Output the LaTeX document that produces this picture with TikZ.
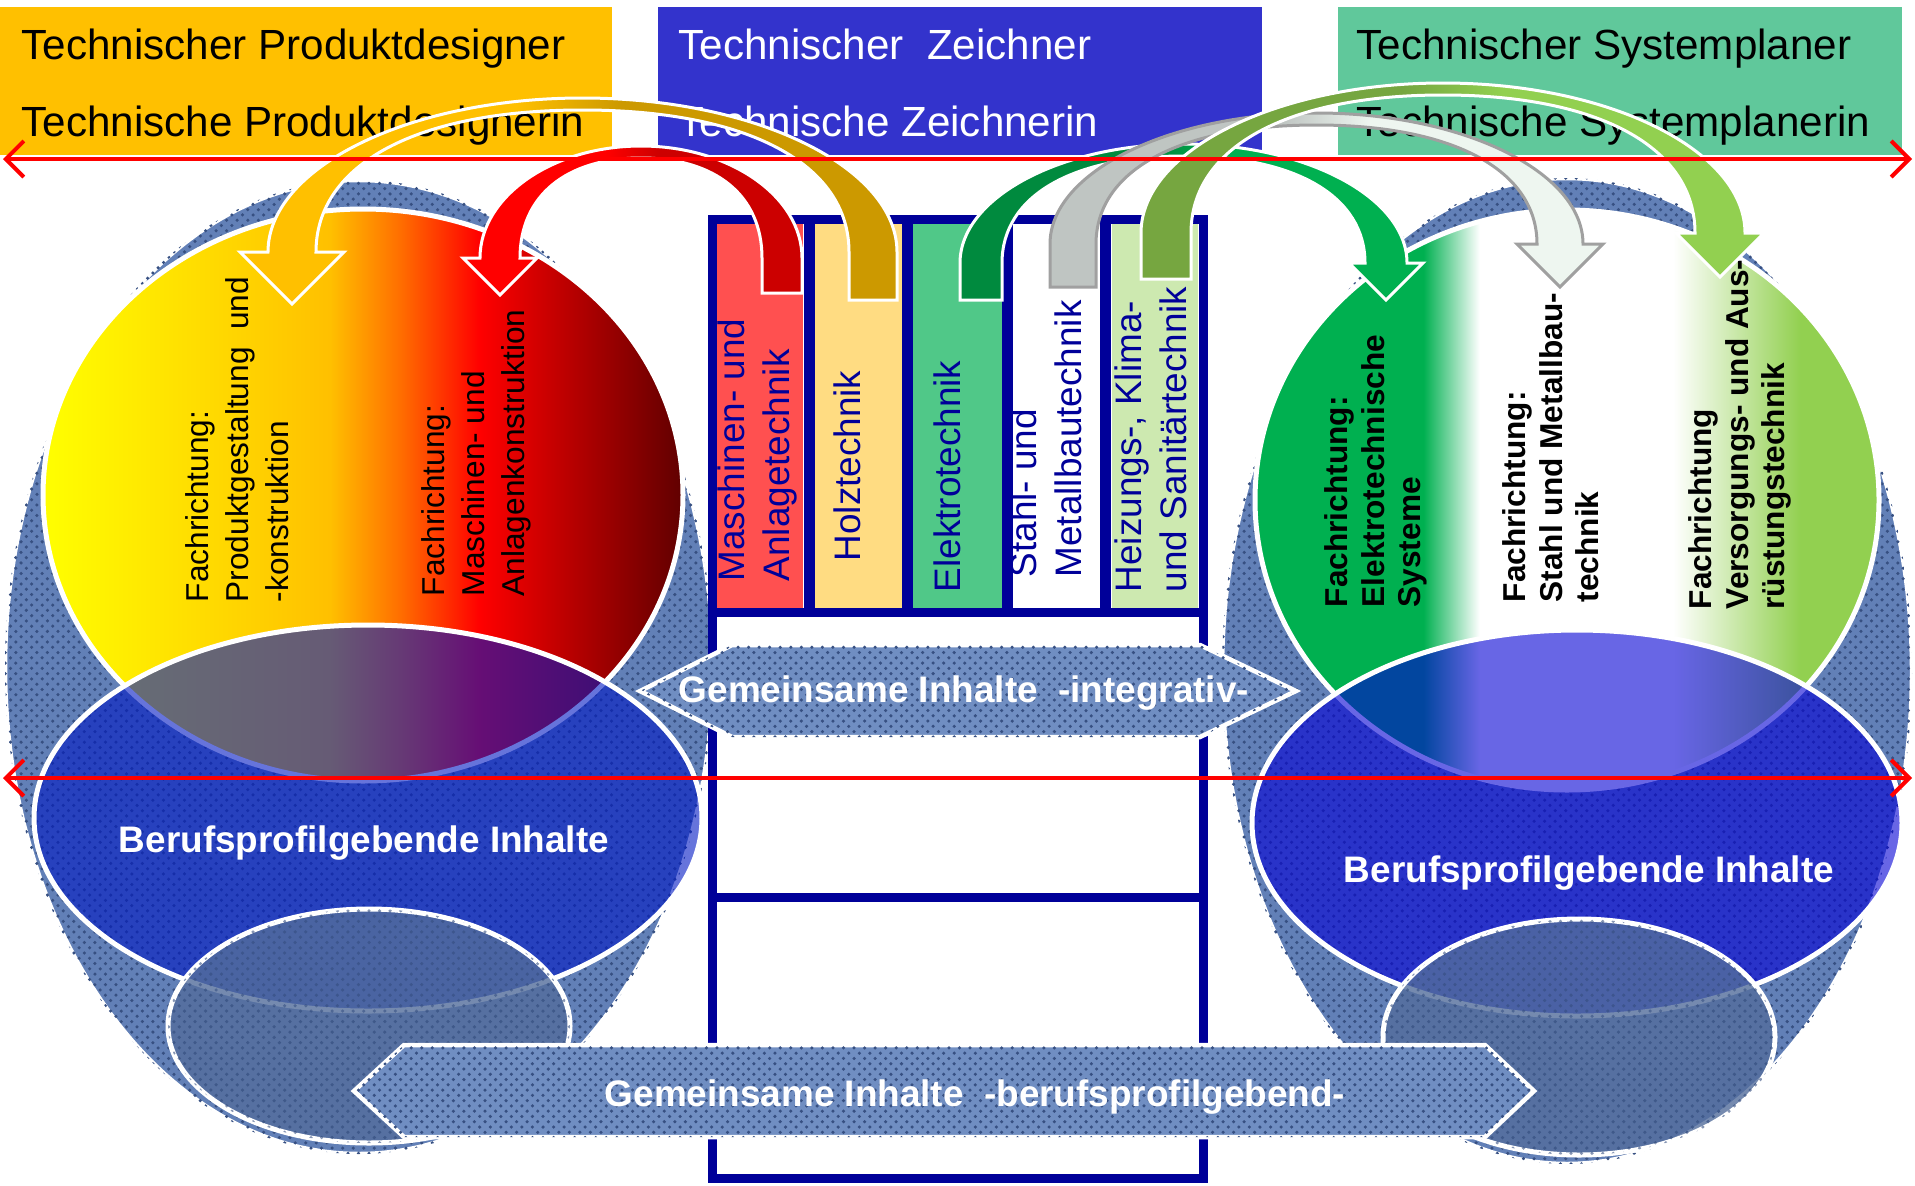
\documentclass[tikz,border=0pt]{standalone}
\usepackage{fontspec}
\setmainfont{Liberation Sans}
\usetikzlibrary{arrows.meta,patterns}

\definecolor{kopfgelb}{RGB}{255,192,0}
\definecolor{kopfblau}{RGB}{51,51,204}
\definecolor{kopfgruen}{RGB}{96,200,155}
\definecolor{denim}{RGB}{98,128,183}
\definecolor{denimdunkel}{RGB}{55,80,130}
\definecolor{denimhell}{RGB}{112,142,194}
\definecolor{rahmenblau}{RGB}{0,0,153}
\definecolor{balkenrot}{RGB}{255,80,80}
\definecolor{balkengelb}{RGB}{255,220,130}
\definecolor{balkengruen}{RGB}{80,200,136}
\definecolor{balkenhell}{RGB}{205,233,176}
\definecolor{kernblau}{RGB}{0,24,196}
\definecolor{kernviolett}{RGB}{4,0,213}
\definecolor{pvA}{RGB}{255,255,0}
\definecolor{pvB}{RGB}{255,192,0}
\definecolor{pvC}{RGB}{255,110,0}
\definecolor{pvD}{RGB}{255,0,0}
\definecolor{pvE}{RGB}{96,0,0}
\definecolor{svA}{RGB}{0,176,80}
\definecolor{svB}{RGB}{146,208,80}
\definecolor{goldL}{RGB}{255,192,0}
\definecolor{goldR}{RGB}{204,153,0}
\definecolor{rotL}{RGB}{255,0,0}
\definecolor{rotR}{RGB}{204,0,0}
\definecolor{gruenL}{RGB}{0,138,62}
\definecolor{gruenR}{RGB}{0,176,80}
\definecolor{grauL}{RGB}{191,197,194}
\definecolor{grauR}{RGB}{238,246,240}
\definecolor{grauRand}{RGB}{160,160,160}
\definecolor{olivL}{RGB}{118,166,64}
\definecolor{olivR}{RGB}{146,208,80}
\colorlet{bogenA}{red}
\colorlet{bogenB}{red}

% Verlaeufe
\pgfdeclarehorizontalshading{produktverlauf}{100bp}{color(0bp)=(pvA); color(25bp)=(pvA); color(47.4bp)=(pvB); color(52.9bp)=(pvC); color(59.1bp)=(pvD); color(75bp)=(pvE); color(100bp)=(pvE)}
\pgfdeclarehorizontalshading{systemverlauf}{100bp}{color(0bp)=(svA); color(38.5bp)=(svA); color(43bp)=(white); color(58.5bp)=(white); color(68.7bp)=(svB); color(100bp)=(svB)}
\pgfdeclarehorizontalshading[bogenA,bogenB]{bogenverlauf}{100bp}{color(0bp)=(bogenA); color(46bp)=(bogenA); color(54bp)=(bogenB); color(100bp)=(bogenB)}

\tikzset{
  titel/.style={anchor=base west, inner sep=0pt, font={\fontsize{12}{14}\selectfont}},
  fachtext/.style={rotate=90, anchor=west, align=left, inner sep=0pt, font={\fontsize{9}{11.4}\selectfont}},
  fachfett/.style={fachtext, font={\bfseries\fontsize{9}{10.4}\selectfont}},
  balkentext/.style={rotate=90, anchor=west, align=left, inner sep=0pt, text=rahmenblau, font={\fontsize{10.5}{12.8}\selectfont}},
  weisstext/.style={anchor=base, inner sep=0pt, text=white, font={\bfseries\fontsize{10.5}{12.6}\selectfont}},
  denimflaeche/.style={fill=denim, draw=white, line width=0.45mm, postaction={pattern=crosshatch dots, pattern color=denimdunkel}},
  kern/.style={fill opacity=0.6, draw=white, line width=0.5mm},
  klein/.style={fill=denim!85!black, fill opacity=0.8, draw=white, line width=0.5mm, postaction={pattern=crosshatch dots, pattern color=denimdunkel, fill opacity=0.6}},
  rahmen/.style={draw=rahmenblau, line width=0.9mm},
  bogen/.style 2 args={/utils/exec={\colorlet{bogenA}{#1}\colorlet{bogenB}{#2}}, shading=bogenverlauf, draw=white, line width=0.3mm},
  trennlinie/.style={draw=red, line width=0.4mm, {Straight Barb[length=1.8mm,width=3.6mm]}-{Straight Barb[length=1.8mm,width=3.6mm]}}
}

% Bogenpfeil: #1 x links, #2 x rechts, #3 y Fuss, #4 y Scheitel aussen, #5 y Schaftende,
% #6 halbe Spitzenbreite, #7 halbe Schaftbreite, #8 Stil, #9 Seite der Spitze (l/r)
\def\bko{0.55}
\def\bki{0.62}
\def\bt{12}
\newcommand{\bogenpfeil}[9]{%
  \pgfmathsetmacro\bcx{(#1+#2)/2}%
  \pgfmathsetmacro\bkxo{\bko*((#2-#1)/2+#7)}%
  \pgfmathsetmacro\bkxi{\bki*((#2-#1)/2-#7)}%
  \pgfmathsetmacro\bkyo{\bko*(#3-#4)}%
  \pgfmathsetmacro\bkyi{\bki*(#3-#4-\bt)}%
  \pgfmathsetmacro\bti{#4+\bt}%
  \if#9l
    \coordinate (lf2) at (#1-#6,#3); \coordinate (lf3) at (#1,#3+#6); \coordinate (lf4) at (#1+#6,#3);
    \coordinate (rf2) at (#2-#7,#5); \coordinate (rf3) at (#2,#5); \coordinate (rf4) at (#2+#7,#5);
  \else
    \coordinate (lf2) at (#1-#7,#5); \coordinate (lf3) at (#1,#5); \coordinate (lf4) at (#1+#7,#5);
    \coordinate (rf2) at (#2-#6,#3); \coordinate (rf3) at (#2,#3+#6); \coordinate (rf4) at (#2+#6,#3);
  \fi
  \shade[#8] (#1+#7,#3)
    .. controls (#1+#7,#3-\bkyi) and (\bcx-\bkxi,\bti) .. (\bcx,\bti)
    .. controls (\bcx+\bkxi,\bti) and (#2-#7,#3-\bkyi) .. (#2-#7,#3)
    -- (rf2) -- (rf3) -- (rf4) -- (#2+#7,#3)
    .. controls (#2+#7,#3-\bkyo) and (\bcx+\bkxo,#4) .. (\bcx,#4)
    .. controls (\bcx-\bkxo,#4) and (#1-#7,#3-\bkyo) .. (#1-#7,#3)
    -- (lf2) -- (lf3) -- (lf4) -- cycle;
}

\begin{document}
\begin{tikzpicture}[x=0.1mm, y=-0.1mm]
\useasboundingbox (0,0) rectangle (1915,1185);

% Kopfzeilen
\fill[kopfgelb] (0,7) rectangle (612,155);
\fill[kopfblau] (658,7) rectangle (1262,155);
\fill[kopfgruen] (1338,7) rectangle (1902,155);
\node[titel] (tpd1) at (21,59) {Technischer Produktdesigner};
\node[titel] (tpd2) at (21,136) {Technische Produktdesignerin};
\node[titel, text=white] (tz1) at (678,59) {Technischer\ \ Zeichner};
\node[titel, text=white] (tz2) at (678,136) {Technische Zeichnerin};
\node[titel] (tsp1) at (1356,59) {Technischer Systemplaner};
\node[titel] (tsp2) at (1356,136) {Technische Systemplanerin};

% Flaechen
\path[denimflaeche] (359,667) ellipse [x radius=35.4mm, y radius=48.7mm];
\path[denimflaeche] (1567,671) ellipse [x radius=34.5mm, y radius=49.3mm];

% Mittelteil
\fill[balkenrot] (717,223) rectangle (803,608);
\fill[balkengelb] (815,223) rectangle (902,608);
\fill[balkengruen] (913,223) rectangle (1002,608);
\fill[white] (1012,223) rectangle (1098,608);
\fill[balkenhell] (1112,223) rectangle (1198,608);
\fill[white] (717,617) rectangle (1198,1174);
\draw[rahmen] (712,219) rectangle (1203,1178);
\draw[rahmen] (712,612) -- (1203,612);
\draw[rahmen] (712,897) -- (1203,897);
\foreach \x in {809,907.5,1007,1105}
  \draw[rahmen, line width=1.1mm] (\x,219) -- (\x,612);
\node[balkentext] (bma) at (757,582) {Maschinen- und\\Anlagetechnik};
\node[balkentext] (bho) at (847,562) {Holztechnik};
\node[balkentext] (bel) at (947,593) {Elektrotechnik};
\node[balkentext] (bst) at (1046,578) {Stahl- und\\Metallbautechnik};
\node[balkentext] (bhk) at (1151,593) {Heizungs-, Klima-\\und Sanitärtechnik};

% Fachrichtungen
\shade[shading=produktverlauf, draw=white, line width=0.5mm] (363,495) ellipse [x radius=32mm, y radius=28.6mm];
\shade[shading=systemverlauf, draw=white, line width=0.5mm] (1567,500) ellipse [x radius=31.2mm, y radius=29mm];
\node[fachtext] (fpg) at (237,603) {Fachrichtung:\\Produktgestaltung\ \ und\\-konstruktion};
\node[fachtext] (fma) at (476,597) {Fachrichtung:\\Maschinen- und\\Anlagenkonstruktion};
\node[fachfett] (fes) at (1376,608) {Fachrichtung:\\Elektrotechnische\\Systeme};
\node[fachfett] (fsm) at (1551,603) {Fachrichtung:\\Stahl und Metallbau-\\technik};
\node[fachfett] (fvt) at (1740,610) {Fachrichtung\\Versorgungs- und Aus-\\rüstungstechnik};

% Berufsprofil
\path[kern, fill=kernblau] (368,818) ellipse [x radius=33.4mm, y radius=19.3mm];
\path[kern, fill=kernviolett] (1577,823) ellipse [x radius=32.5mm, y radius=19.3mm];
\node[weisstext] (bpl) at (364,852) {Berufsprofilgebende Inhalte};
\node[weisstext] (bpr) at (1589,882) {Berufsprofilgebende Inhalte};
\path[klein] (369,1026) ellipse [x radius=20.1mm, y radius=11.7mm];
\path[klein] (1579,1037) ellipse [x radius=19.6mm, y radius=11.8mm];

% Gemeinsame Inhalte
\path[denimflaeche, fill=denimhell] (732,645) -- (1200,645) -- (1296,691) -- (1200,737) -- (732,737) -- (640,691) -- cycle;
\path[denimflaeche, fill=denimhell] (404,1045) -- (1485,1045) -- (1534,1091) -- (1485,1137) -- (404,1137) -- (354,1091) -- cycle;
\node[weisstext] (gin) at (964,702) {Gemeinsame Inhalte\ \ -integrativ-};
\node[weisstext] (gbe) at (975,1106) {Gemeinsame Inhalte\ \ -berufsprofilgebend-};

% Boegen
\bogenpfeil{292}{873}{252}{98}{300}{52}{24}{bogen={goldL}{goldR}}{l}
\bogenpfeil{500}{782}{258}{146}{293}{37}{20}{bogen={rotL}{rotR}}{l}
\bogenpfeil{981}{1386}{263}{144}{300}{37}{21}{bogen={gruenL}{gruenR}}{r}
\bogenpfeil{1073}{1560}{244}{113}{287}{43}{23}{bogen={grauL}{grauR}, draw=grauRand}{r}
\bogenpfeil{1166}{1720}{233}{83}{279}{44}{25}{bogen={olivL}{olivR}}{r}

% Trennlinien
\coordinate (oli) at (3,159);
\coordinate (ore) at (1912,159);
\coordinate (uli) at (3,778);
\coordinate (ure) at (1912,778);
\draw[trennlinie] (oli) -- (ore);
\draw[trennlinie] (uli) -- (ure);
\end{tikzpicture}
\end{document}
